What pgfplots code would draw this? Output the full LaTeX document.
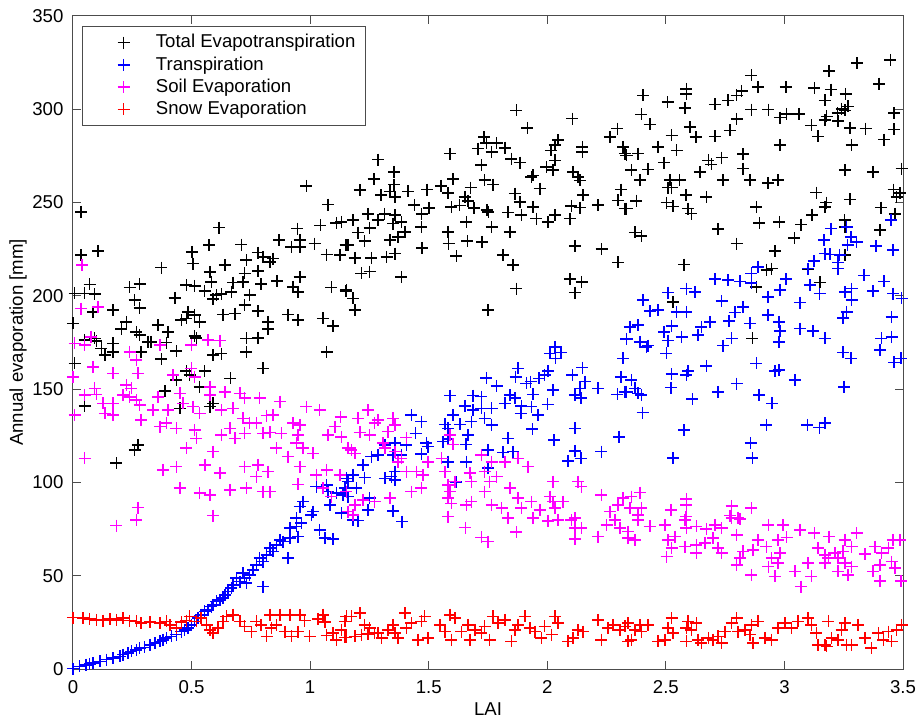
\documentclass[border=0pt]{standalone}
\usepackage{fontspec}
\setmainfont{Liberation Sans}
\usepackage{pgfplots}
\pgfplotsset{compat=1.18}

\definecolor{etblack}{rgb}{0,0,0}
\definecolor{etblue}{rgb}{0,0,1}
\definecolor{etmag}{rgb}{1,0,1}
\definecolor{etred}{rgb}{1,0,0}
\definecolor{axgray}{rgb}{0.3,0.3,0.3}

\pgfplotsset{
  evap/.style={only marks, mark=+, mark size=3pt, color=#1,
    mark options={line width=0.8pt},
    legend image code/.code={
      \pgfpathmoveto{\pgfpoint{-17.5pt}{0pt}}
      \pgfpathlineto{\pgfpoint{14.2pt}{0pt}}
      \pgfusepath{}
      \draw[##1] plot coordinates {(0pt,0pt)};
    }},
}

\begin{document}
\fontsize{9.3}{11}\selectfont
\begin{tikzpicture}
\begin{axis}[
  scale only axis,
  width=415pt, height=326.5pt,
  xmin=0, xmax=3.5, ymin=0, ymax=350,
  xtick={0,0.5,1,1.5,2,2.5,3,3.5},
  ytick={0,50,100,150,200,250,300,350},
  tick align=inside,
  major tick length=4pt,
  axis line style={axgray, line width=0.5pt},
  every tick/.style={axgray, line width=0.5pt},
  /pgf/number format/assume math mode=true,
  ticklabel style={font=\fontsize{9.3}{11}\selectfont},
  xticklabel style={yshift=-2.5pt},
  yticklabel style={xshift=-1.5pt},
  xlabel={LAI},
  ylabel={Annual evaporation [mm]},
  xlabel style={at={(axis description cs:0.5,0)}, anchor=center, yshift=-20pt,
    font=\fontsize{9.3}{11}\selectfont},
  ylabel style={at={(axis description cs:-0.0663,0.5)}, anchor=center,
    font=\fontsize{9.3}{11}\selectfont},
  legend cell align=left,
  legend style={at={(0,1)}, anchor=north west, xshift=4.5pt, yshift=-5pt,
    draw=axgray, line width=0.5pt, fill=white, row sep=-1pt,
    font=\fontsize{9.3}{11}\selectfont},
]
\coordinate (sw) at (rel axis cs:0,0);
\coordinate (ne) at (rel axis cs:1,1);

% total evapotranspiration
\addplot[evap=etblack] coordinates {
 (0.984,258.9) (0.035,245) (1.076,248.9) (0.616,236.6) (0.946,236.1) (1.043,237.8)
 (1.111,239.1) (1.132,239.6) (0.035,221.8) (0.106,224.1) (0.373,215.2) (0.501,223.6)
 (0.506,217.3) (0.574,227.1) (0.640,216.4) (0.710,227.5) (0.731,219.1) (0.780,223.2)
 (0.801,220.9) (0.830,218.2) (0.844,220) (0.869,229.8) (0.921,226.2) (0.956,226.2)
 (0.956,229.8) (1.019,228) (1.069,222.1) (1.125,221.8) (1.150,227.1) (0.070,206.1)
 (0.239,204.5) (0.281,206.2) (0.007,201.3) (0.049,201.3) (0.091,200.9) (0.478,205.7)
 (0.513,205.4) (0.577,212.8) (0.584,207.5) (0.675,207.1) (0.724,212) (0.717,207.5)
 (0.780,213.2) (0.794,206.2) (0.861,207.9) (0.928,204.8) (0.949,202.1) (0.956,210.2)
 (1.090,204.5) (1.150,202.5) (0.429,198.9) (0.555,202.7) (0.605,200.4) (0.626,200.9)
 (0.668,202.1) (0.591,198.2) (0.745,200.4) (0.260,197.7) (0.281,193.6) (0.169,192.3)
 (0.084,191.4) (0.485,191.4) (0.478,187.9) (0.513,189.7) (0.534,186.1) (0.457,187)
 (0.633,190) (0.682,190.5) (0.724,195) (0.780,191.8) (0.823,186.1) (0.823,182.2)
 (0.907,190) (0.949,187) (1.054,187.9) (1.097,183.9) (0.225,186.1) (0.204,182.2)
 (0.267,180.7) (0.281,179) (0.359,184.3) (0.401,180.7) (0.513,178.6) (0.520,177.5)
 (0.731,177.2) (0.780,177.5) (0.049,176.3) (0.091,177.2) (0.099,175.7) (0.169,174.5)
 (0.316,175.4) (0.330,175.4) (0.394,175) (0.000,185.2)
 (0.120,171.8) (0.169,170) (0.134,168.2) (0.288,170) (0.436,170.4) (0.591,168.2)
 (0.626,169.1) (0.731,170) (1.069,170) (0.801,161.1) (0.664,155.8) (0.534,151.3)
 (0.555,159.7) (0.478,159.7) (0.436,154.9) (0.373,166.1) (0.387,149) (0.049,141.1)
 (0.007,163.8) (0.274,120.1) (0.260,117.4) (0.183,110.3) (0.591,142.4) (0.577,140.6)
 (0.450,139.7) (0.492,157.5)
 (1.870,299.4) (1.916,290) (2.106,295) (1.287,273) (1.354,266.4) (1.589,276.2)
 (1.734,285.1) (1.743,281.9) (1.786,281.9) (1.821,279.4) (1.708,278.9) (1.765,277.1)
 (1.722,270) (1.849,273.5) (1.884,271.4) (2.046,283.4) (2.032,280.7) (2.015,278)
 (2.032,272.6) (1.996,269.1) (2.025,267.3) (1.940,264.6) (2.148,279.8) (2.148,277.1)
 (2.264,285.1) (2.296,289.6) (2.320,279.8) (2.334,275.3) (2.109,266.4) (2.130,263.7)
 (3.447,326.5) (3.307,324.8) (3.189,320.5) (2.861,318.2) (2.889,311.9) (3.006,311.9)
 (3.126,311.5) (3.196,310.5) (3.258,308.3) (3.400,313.7) (2.587,311) (2.587,308.3)
 (2.404,307.4) (2.507,303.9) (2.580,300.8) (2.707,302.6) (2.763,304.8) (2.798,307.4)
 (2.819,309.8) (3.170,304.8) (3.241,300.3) (3.269,301.6) (3.255,299.4) (3.224,298)
 (2.397,297.3) (2.432,291.9) (2.798,294.9) (2.861,299.8) (2.932,299.8) (2.981,295.5)
 (3.009,297.6) (3.061,297.6) (3.178,296.2) (3.171,294.1) (3.227,293.7) (3.114,291.4)
 (3.142,285.5) (3.276,290) (3.342,289.6) (3.463,298) (3.463,289.2) (3.421,283.7)
 (2.524,286) (2.601,290.5) (2.626,285.1) (2.707,285.5) (2.770,288.7) (2.981,280.7)
 (3.283,280.7) (2.468,279.8) (2.383,276.2) (2.327,276.2) (2.545,278) (2.493,271.4)
 (2.355,267.3) (2.425,267.8) (2.679,272.6) (2.735,274.1) (2.826,275.9) (2.643,266.4)
 (2.692,270.5) (2.826,268.2) (3.255,267.3) (3.374,266.4) (3.494,268.2)
 (1.209,256.6) (1.268,262.5) (1.603,262.5) (1.736,262) (1.772,259.6) (1.354,259.6)
 (1.300,254) (1.336,256) (1.357,253) (1.413,256) (1.494,257) (1.553,259) (1.582,255)
 (1.677,258) (1.652,253) (1.666,251) (1.440,248.6) (1.500,247) (1.470,244)
 (1.596,247.5) (1.630,248.5) (1.690,247) (1.745,246) (1.752,245)
 (1.835,244.7) (1.863,254.8) (1.884,250.4) (1.940,247.7) (1.968,257.5) (1.891,243.2)
 (1.954,241.4) (2.003,239.6) (2.032,243.2) (2.095,241.4) (2.102,248.2) (2.137,247.3)
 (2.151,253.9) (2.214,248.6) (2.299,251.2) (2.327,246.8) (2.310,257) (2.137,261.9)
 (1.933,263.7) (1.181,240.5) (1.245,244) (1.286,240.5) (1.314,244) (1.357,243.2)
 (1.350,238.7) (1.385,239.6) (1.399,234.3) (1.251,236.4) (1.202,233.9) (1.230,229.3)
 (1.336,229.8) (1.371,231.6) (1.160,227.1) (1.188,220.4) (1.258,220.4) (1.322,220.9)
 (1.357,222.7) (1.216,212) (1.251,213) (1.385,210.2) (1.469,237) (1.472,225.7)
 (1.582,234.3) (1.584,228) (1.617,221.3) (1.659,239.6) (1.663,229.3) (1.725,228.9)
 (1.765,237) (1.842,234.3) (1.814,221.8) (1.856,216.4) (1.870,203.9) (1.751,192.3)
 (2.116,226.8) (2.229,225) (2.299,217.9) (2.095,209) (2.145,207.5) (2.116,201.8)
 (1.153,203) (1.181,198.6) (1.188,192.3)
 (2.390,262) (2.517,262) (2.558,262) (2.510,258) (2.524,258) (2.584,253.9) (2.671,253)
 (2.376,251) (2.503,250) (2.531,248) (2.594,246.8) (2.608,244.1) (2.334,246.8)
 (2.741,262) (2.854,262) (2.931,260.5) (2.973,262) (3.135,255.3) (3.177,250)
 (3.170,247.7) (3.276,251.7) (2.882,247.7) (3.407,247.3) (3.460,257) (3.473,253)
 (3.487,255) (3.466,244) (2.369,234) (2.397,232) (2.721,235.7) (2.894,239)
 (2.979,239.6) (3.071,238.2) (3.117,243.5) (3.254,240.5) (3.256,237) (3.403,235.2)
 (3.042,231) (2.798,228) (2.961,223.9) (2.577,216.8) (2.925,214) (2.946,214.6)
 (3.101,214.3) (3.149,207.2) (2.882,204.8) (2.531,196.8) (2.865,177.2) (3.256,222)
};
\addlegendentry{Total Evapotranspiration}

% transpiration
\addplot[evap=etblue] coordinates {
 (0.000,0.2) (0.028,1.4) (0.056,2.3) (0.070,2.7) (0.085,3.2) (0.113,4.1) (0.141,5)
 (0.169,5.9) (0.197,6.8) (0.211,7.7) (0.232,8.5) (0.246,9.4) (0.267,10.3) (0.281,11.2)
 (0.302,11.6) (0.324,13) (0.345,13.9) (0.366,14.8) (0.380,15.7) (0.394,16.6)
 (0.415,17.5) (0.436,18.4) (0.457,20.1) (0.471,21) (0.485,21.9) (0.499,23.7)
 (0.513,25.5) (0.527,27.3) (0.541,29.1) (0.555,30.9) (0.570,31.7) (0.584,33.5)
 (0.591,34.4) (0.605,36.2) (0.619,37.1) (0.633,38) (0.640,39.8) (0.654,41.6)
 (0.668,43.3) (0.675,45.1) (0.689,48.7) (0.703,46.9) (0.717,51.4) (0.724,48.7)
 (0.731,46) (0.745,50.5) (0.759,53.2) (0.773,55.8) (0.787,59.4) (0.801,57.6)
 (0.816,61.2) (0.830,64.8) (0.844,63) (0.858,66.5) (0.872,69.2) (0.886,68.3)
 (0.914,70.1) (0.914,75.5) (0.942,76.4) (0.949,71) (0.963,78.1) (0.942,80.8)
 (0.801,44.2) (0.907,59.4) (1.040,74.6) (1.062,70.1) (1.097,69.7) (1.005,82.6)
 (1.026,97.8) (1.069,98.7) (1.076,95.1) (1.111,94.2) (1.139,93.3) (1.153,102.2)
 (1.146,96.9) (0.970,89.7) (0.956,87) (1.012,84.4) (1.132,83.5) (1.083,88)
 (1.181,79.9) (1.202,79.5) (1.388,79)
 (2.032,172.7) (2.011,169.2) (2.057,169.7) (2.035,166.5) (2.320,166.5) (2.148,161.5)
 (2.106,157.5) (2.158,154) (2.137,150.4) (2.116,146.8) (2.141,145.1) (2.214,150.4)
 (2.296,147.2) (2.310,156.6) (2.334,148.6) (2.004,159.7) (1.989,157.5) (1.966,155.8)
 (1.930,154) (1.912,153.1) (1.877,161.1) (1.866,156.6) (2.025,149.5) (1.940,147.2)
 (2.001,141.8) (1.961,136.1) (1.891,141.1) (1.933,140.6) (1.821,142.4) (1.842,146.8)
 (1.863,145.1) (1.888,137) (1.786,151.8) (1.743,156.1) (1.722,146) (1.687,146.5)
 (1.652,141.1) (1.687,138.8) (1.722,139.7) (1.765,139.7) (1.736,134.3) (1.765,130.8)
 (1.937,128.6) (2.029,122.7) (2.116,129) (2.302,124.5) (2.228,116.5) (2.116,116.9)
 (2.141,112.9) (2.088,111.5) (1.835,123.6) (1.856,116.5) (1.814,116.1) (1.750,117.4)
 (1.589,146.5) (1.603,136.1) (1.631,131.1) (1.680,132.6) (1.568,131.1) (1.582,129)
 (1.666,125.4) (1.656,120.4) (1.582,123.3) (1.561,121.9) (1.490,121) (1.497,119.2)
 (1.469,115.1) (1.427,136.1) (1.469,132.6) (1.445,126.3) (1.406,120.1) (1.357,121)
 (1.315,120.1) (1.350,114.7) (1.385,114.7) (1.287,114.7) (1.258,113.8) (1.223,109.4)
 (1.181,104) (1.160,100.4) (1.195,96.9) (1.230,102.6) (1.315,102.2) (1.343,103.1)
 (1.357,105.8) (1.357,101.3) (1.251,91.5) (1.244,85.3) (1.350,84.7) (1.160,92.4)
 (1.582,111.1) (1.659,111.1) (1.617,100.1) (1.750,107.6)
 (2.502,169.2) (2.418,172.7) (2.355,154.9) (2.369,150.4) (2.383,147.7) (2.397,146.8)
 (2.327,148.6) (2.524,158) (2.587,157.5) (2.594,159.7) (2.521,150.8) (2.671,162.5)
 (2.612,144.7) (2.721,148.6) (2.798,153) (2.882,163.8) (2.960,159.7) (2.976,160.2)
 (3.044,154.9) (2.893,146.8) (2.948,142.4) (2.402,137.4) (2.577,128.1) (2.924,130.8)
 (2.857,121) (2.865,113) (2.531,113) (3.097,130.8) (3.147,129.4) (3.170,131.7)
 (3.252,151.3) (3.248,169.7) (3.280,166.5) (3.402,171) (3.463,164.3) (3.491,166.5)
 (3.196,236.1) (3.262,237) (3.280,231.6) (3.304,228.9) (3.167,229.8) (3.170,222.7)
 (3.191,222.2) (3.233,221.8) (3.266,227.1) (3.226,217.9) (3.226,214.6) (3.124,218.6)
 (3.100,214.6) (3.386,226.6) (3.459,224.5) (3.449,240.5) (3.336,211) (3.420,207.8)
 (3.374,202.5) (3.459,201.2) (3.283,203.9) (3.255,202.1) (3.283,197.7) (3.494,198.6)
 (3.148,201.2) (3.107,205.7) (3.006,208.9) (2.981,203) (2.931,199.5) (3.065,196.4)
 (2.889,215.5) (2.861,212) (2.861,207) (2.812,207.8) (2.763,208.4) (2.707,208.9)
 (2.735,197.2) (2.826,194.1) (2.791,191.1) (2.767,186.4) (2.854,185.2) (2.931,189.6)
 (2.977,186.1) (2.981,181.1) (3.065,182.5) (3.121,181.1) (3.170,177.2) (3.262,191.4)
 (3.248,188.2) (3.452,188.8) (3.409,177.2) (3.452,178.1) (2.977,175.4) (2.777,177.2)
 (2.742,173.3) (2.686,186.1) (2.650,183.4) (2.636,179) (2.587,191.4) (2.545,191.4)
 (2.524,184) (2.493,180.7) (2.566,178.1) (2.510,176) (2.390,175.4) (2.425,173.3)
 (2.334,176.9) (2.348,183.4) (2.383,184.3) (2.404,197.7) (2.433,191.8) (2.468,192.3)
 (2.510,201.8) (2.587,203.9) (2.622,202.1)
};
\addlegendentry{Transpiration}

% soil evaporation
\addplot[evap=etmag] coordinates {
 (0.038,216.4) (0.035,193.2) (0.105,194.1) (0.077,178) (0.049,173.6) (0.007,174.5)
 (0.366,173.6) (0.569,176.3) (0.619,176) (0.499,173.6)
 (0.084,162) (0.169,158.4) (0.274,158.4) (0.239,170) (0.267,165.6) (0.000,156.6)
 (0.225,152.2) (0.211,146.8) (0.246,150.4) (0.239,145.9) (0.091,150.4) (0.049,146.8)
 (0.099,147.2) (0.127,142.4) (0.169,142.4) (0.134,137) (0.169,136.1) (0.267,144.2)
 (0.281,141.5) (0.288,133.5) (0.007,136.1) (0.338,138.8) (0.359,145.9) (0.401,138.8)
 (0.366,129.9) (0.394,131.7) (0.436,129) (0.422,157.5) (0.499,161.1) (0.513,156.6)
 (0.450,147.7) (0.464,142.4) (0.506,140.6) (0.534,137) (0.577,151.3) (0.577,146.8)
 (0.626,138.8) (0.675,139.7) (0.640,148.6) (0.703,147.7) (0.724,145.1) (0.787,145.1)
 (0.717,134.3) (0.745,131.7) (0.773,131.7) (0.816,135.8) (0.844,136.1) (0.872,143.3)
 (0.661,129) (0.626,125.4) (0.682,123.6) (0.724,126.3) (0.801,126.3) (0.830,126.8)
 (0.879,126.3) (0.928,131.7) (0.956,130.8) (0.949,125.4) (0.942,121) (0.970,118.3)
 (0.984,140.6) (1.040,138.8) (1.128,135.2) (1.104,129.9) (1.076,125.4) (1.132,124.5)
 (1.160,118.3) (1.012,115.6) (0.858,118.3) (0.907,113.8) (0.956,108.5) (0.780,109.4)
 (0.724,108.5) (0.823,105.8) (0.773,103.1) (0.556,109.4) (0.619,104.9) (0.513,128.1)
 (0.520,123.6) (0.478,118.3) (0.591,116.5) (0.436,108.5) (0.380,106.7) (0.049,112.9)
 (0.450,96.9) (0.534,94.2) (0.577,93.3) (0.661,96) (0.731,96.9) (0.801,95.1)
 (0.830,95.1) (0.949,99) (1.026,104) (1.069,106.7) (1.125,104) (1.054,96.9)
 (1.090,92.4) (0.274,86.5) (0.591,82.2) (0.183,76.9) (0.267,79.9)
 (1.244,138.8) (1.202,134.3) (1.286,133.5) (1.272,131.7) (1.350,134.3) (1.357,130.8)
 (1.329,127.2) (1.209,126.8) (1.251,125.4) (1.174,117.4) (1.188,115.6) (1.308,121)
 (1.315,118.3) (1.357,116.5) (1.406,124) (1.385,112.9) (1.371,111.1) (1.406,105.8)
 (1.448,105.8) (1.476,104) (1.497,111.1) (1.554,112.9) (1.589,125.4) (1.603,120.4)
 (1.568,105.8) (1.582,98.7) (1.610,100.4) (1.673,104.9) (1.722,114.7) (1.765,111.1)
 (1.736,105.8) (1.786,103.1) (1.821,111.1) (1.877,112.9) (1.919,108.5) (1.757,100.4)
 (1.680,100.4) (1.589,95.1) (1.582,91.5) (1.596,88.8) (1.680,89.7) (1.659,88)
 (1.736,95.1) (1.765,88) (1.842,96.9) (1.877,91.5) (1.933,89.7) (1.891,86.2)
 (1.968,85.3) (2.025,100.4) (2.011,92.4) (2.025,89.7) (2.067,89.7) (2.130,100.4)
 (2.144,97.8) (2.228,93.3) (2.320,91.5) (2.299,88) (2.264,84.4) (2.116,80.8)
 (2.032,86.2) (1.807,86.2) (1.427,95.1) (1.469,96.9) (1.336,91.5) (1.272,89.7)
 (1.223,90.6) (1.188,88) (1.153,95.1) (1.160,84.4) (1.181,82.6)
 (1.582,81.7) (1.655,75.8) (1.722,70.5) (1.750,68.3) (1.835,80.8) (1.870,73.3)
 (1.940,80.8) (2.004,79.4) (2.046,79.9) (2.102,79.9) (2.116,75.5) (2.144,75.5)
 (2.116,69.8) (2.214,71) (2.250,77.2) (2.285,79.9) (2.306,75.5) (2.341,70.1)
 (2.390,94.5) (2.355,92.4) (2.348,86.2) (2.397,86.2) (2.383,82.6) (2.587,91.2)
 (2.587,87.9) (2.521,85.3) (2.584,81.7) (2.777,87.4) (2.770,82.2) (2.805,81.1)
 (2.861,86.2)
 (2.383,79.9) (2.432,76.4) (2.496,77.2) (2.580,79.9) (2.587,75.5) (2.629,76.4)
 (2.671,75.1) (2.707,77.2) (2.735,75.5) (2.777,80.8) (2.812,80.5) (2.341,73.7)
 (2.369,69.2) (2.510,69.2) (2.538,71) (2.524,64.8) (2.503,60.3) (2.580,65.6)
 (2.629,66.5) (2.664,67.4) (2.700,70.1) (2.721,64.8) (2.735,62.1) (2.629,62.1)
 (2.798,71.9) (2.826,63) (2.812,59.4) (2.798,55.8) (2.861,50.5) (2.868,63.9)
 (2.889,69.2) (2.924,65.6) (2.946,59.4) (2.932,54.9) (2.960,49.6) (2.974,56.7)
 (2.974,69.2) (2.981,62.1) (3.009,70.5) (2.995,77.2) (2.932,77.2) (3.065,74.6)
 (3.126,72.8) (3.187,71) (3.304,72.8) (3.255,69.2) (3.283,65.6) (3.248,63)
 (3.213,62.1) (3.142,64.8) (3.171,61.2) (3.100,56.7) (3.171,56.7) (3.185,59.4)
 (3.227,59.4) (3.255,56.7) (3.283,54.9) (3.269,50.5) (3.227,52.3) (3.114,49.6)
 (3.069,44.2) (3.044,52.3) (3.339,61.5) (3.381,65.6) (3.410,62.1) (3.438,64.8)
 (3.459,69.2) (3.487,69.2) (3.403,55.8) (3.374,52.3) (3.403,47.3) (3.452,57.6)
 (3.466,54.1) (3.491,47.3)
};
\addlegendentry{Soil Evaporation}

% snow evaporation
\addplot[evap=etred] coordinates {
 (0.000,27.6) (0.042,27.3) (0.070,26.9) (0.099,26.4) (0.127,25.9) (0.155,26.9)
 (0.183,26.4) (0.211,27.3) (0.239,25.9) (0.267,25.5) (0.288,24.6) (0.324,25.1)
 (0.366,24.6) (0.394,25.5) (0.408,23.7) (0.436,21.9) (0.457,25.1) (0.478,25.9)
 (0.492,28.2) (0.520,25.5) (0.541,27.3) (0.563,23.7) (0.577,21) (0.591,19.3)
 (0.612,21.9) (0.633,25.5) (0.647,28.2) (0.675,29.1) (0.703,25.5) (0.724,22.8)
 (0.752,20.1) (0.773,25.5) (0.794,23.7) (0.816,17.5) (0.837,21.9) (0.858,23.7)
 (0.872,29.1) (0.893,20.1) (0.921,17.5) (0.949,20.1) (0.956,29.1) (0.977,25.9)
 (0.998,17.5) (1.034,26.9) (1.062,25.1) (1.069,18) (1.097,19.3) (1.111,15.7)
 (1.132,21) (1.153,28.2) (1.153,16.9) (1.054,29.1) (0.914,29.1) (0.830,29.1)
 (1.146,25.5) (1.174,28.2) (1.209,30) (1.230,23.7) (1.251,21.9) (1.272,19.3)
 (1.146,16.9) (1.188,17.5) (1.216,18.4) (1.244,18.7) (1.286,19.3) (1.301,16.6)
 (1.329,21) (1.350,23.7) (1.357,19.3) (1.371,16.6) (1.399,30) (1.406,21.9)
 (1.427,24.6) (1.455,15.7) (1.469,25.5) (1.483,28.2) (1.497,16.6) (1.547,23.7)
 (1.568,20.1) (1.589,29.1) (1.596,15.7) (1.610,27.3) (1.638,20.1) (1.666,23.7)
 (1.673,15.7) (1.694,21) (1.722,19.3) (1.736,22.8) (1.757,15.7) (1.771,28.2)
 (1.793,24.6) (1.821,26.4) (1.849,14.8) (1.863,21) (1.877,23.7) (1.905,28.2)
 (1.926,21.9) (1.947,20.1) (1.975,16.6) (1.989,22.8) (2.018,18.4) (2.032,28.2)
 (2.046,24.6) (2.088,14.8) (2.109,16.6) (2.130,21) (2.151,20.1) (2.214,26.4)
 (2.228,15.7) (2.256,21.9) (2.278,23.7) (2.306,21) (2.327,22.8) (2.341,14.8)
 (2.341,24.6) (2.369,21) (2.390,23.7) (2.397,20.1) (2.425,23.7) (2.355,15.7)
 (2.468,14.8) (2.496,15.7) (2.510,21.9) (2.524,27.3) (2.531,19.3) (2.587,21.9)
 (2.594,25.5) (2.608,21) (2.629,24.6) (2.587,14.8) (2.636,15.7) (2.650,13.9)
 (2.679,16.6) (2.700,15.7) (2.721,17.5) (2.735,13.9) (2.749,20.1) (2.777,24.6)
 (2.798,27.3) (2.805,20.1) (2.833,21) (2.854,18.4) (2.861,23.7) (2.868,13.9)
 (2.889,25.5) (2.917,16.6) (2.946,15.7) (2.974,21.9) (3.002,24.6) (3.030,21.9)
 (3.058,25.5) (3.100,27.3) (3.114,23.7) (3.135,19.3) (3.142,13) (3.171,13)
 (3.178,12.1) (3.185,25.5) (3.199,16.6) (3.227,15.7) (3.241,21) (3.255,24.6)
 (3.262,13) (3.283,13) (3.311,23.7) (3.339,16.6) (3.367,11.2) (3.396,19.3)
 (3.417,15.7) (3.438,20.1) (3.452,14.8) (3.473,21) (3.494,23.7)
};
\addlegendentry{Snow Evaporation}

\end{axis}
\pgfresetboundingbox
\path ([shift={(-36.5pt,-24pt)}]sw) rectangle ([shift={(7pt,8pt)}]ne);
\end{tikzpicture}
\end{document}
